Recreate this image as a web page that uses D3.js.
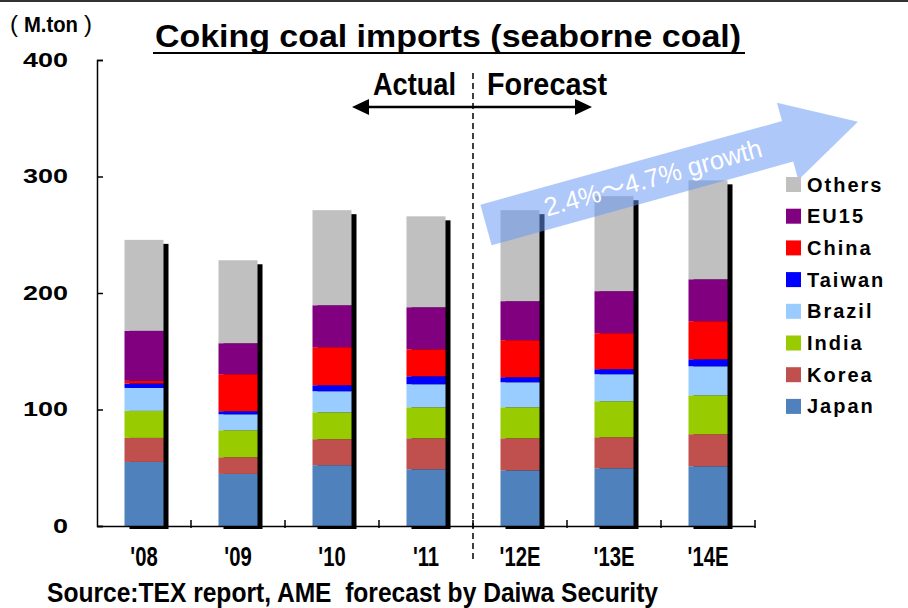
<!DOCTYPE html>
<html>
<head>
<meta charset="utf-8">
<script src="https://cdn.jsdelivr.net/npm/d3@7"></script>
<style>
  html, body { margin: 0; padding: 0; background: #fff; }
  svg { display: block; }
  text { font-family: "Liberation Sans", Arial, "Noto Sans CJK JP", sans-serif; }
</style>
</head>
<body>
<script>
// ---------------- DATA ----------------
const categories = ["'08", "'09", "'10", "'11", "'12E", "'13E", "'14E"];
const japan  = [55.0, 44.7, 52.2, 48.7, 47.8, 49.6, 51.3];
const korea  = [20.6, 14.3, 22.3, 26.6, 27.5, 26.6, 27.5];
const india  = [23.2, 23.2, 23.1, 26.6, 26.6, 30.9, 33.4];
const brazil = [19.7, 13.7, 18.1, 19.8, 21.5, 23.2, 24.9];
const taiwan = [3.8, 2.6, 5.1, 6.8, 4.3, 4.3, 6.0];
const china  = [2.3, 31.8, 32.7, 23.2, 31.8, 30.9, 32.7];
const eu15   = [42.9, 26.6, 36.0, 36.1, 33.5, 36.1, 36.0];
const others = [78.1, 71.2, 81.6, 78.0, 78.1, 81.5, 84.9];
const seriesNames  = ["Japan", "Korea", "India", "Brazil", "Taiwan", "China", "EU15", "Others"];
const seriesColors = ["#4f81bd", "#c0504d", "#99cc00", "#99ccff", "#0000ff", "#ff0000", "#800080", "#c0c0c0"];
const yTicks = [0, 100, 200, 300, 400];
const titleText = "Coking coal imports (seaborne coal)";
const unitParts = ["(", "M.ton", ")"];
const sourceText = "Source:TEX report, AME\u00a0\u00a0forecast by Daiwa Security";
const growthText = "2.4%～4.7% growth";
const actualText = "Actual";
const forecastText = "Forecast";

// ---------------- BUILD TABLE ----------------
const seriesValues = [japan, korea, india, brazil, taiwan, china, eu15, others];
const table = categories.map((c, i) => {
  const row = { cat: c };
  seriesNames.forEach((s, k) => row[s] = seriesValues[k][i]);
  return row;
});
const stack = d3.stack().keys(seriesNames)(table);
const totals = table.map(r => d3.sum(seriesNames, s => r[s]));

// ---------------- SVG ----------------
const W = 908, H = 608;
const svg = d3.select("body").append("svg").attr("width", W).attr("height", H);

function fit(sel, w) { return sel.attr("textLength", w).attr("lengthAdjust", "spacingAndGlyphs"); }

const x = d3.scaleBand().domain(categories).range([97, 755]).paddingInner(0.585).paddingOuter(0.2925);
const y = d3.scaleLinear().domain([0, 400]).range([526, 60]);

// top border
svg.append("line").attr("x1", 0).attr("x2", W).attr("y1", 1).attr("y2", 1)
  .attr("stroke", "#333").attr("stroke-width", 2);

// shadows
svg.append("g").selectAll("rect").data(table).join("rect")
  .attr("x", d => x(d.cat) + 5)
  .attr("y", (d, i) => y(totals[i]) + 4)
  .attr("width", x.bandwidth())
  .attr("height", (d, i) => y(0) - y(totals[i]) - 1)
  .attr("fill", "#000");

// stacked bars
svg.append("g").selectAll("g").data(stack).join("g")
  .attr("fill", (d, k) => seriesColors[k])
  .selectAll("rect").data(d => d).join("rect")
  .attr("x", d => x(d.data.cat))
  .attr("y", d => y(d[1]))
  .attr("width", x.bandwidth())
  .attr("height", d => y(d[0]) - y(d[1]));

// y axis
const yAxis = d3.axisLeft(y).tickValues(yTicks).tickSizeInner(-6).tickSizeOuter(-6).tickPadding(29);
const gy = svg.append("g").attr("transform", "translate(97,0)").call(yAxis);
gy.select(".domain").attr("stroke", "#000").attr("stroke-width", 1.5);
gy.selectAll(".tick line").attr("stroke", "#000").attr("stroke-width", 1.5);
gy.selectAll(".tick text").attr("fill", "#000").attr("font-size", 20).attr("font-weight", "bold")
  .each(function(d) { const s = String(d); d3.select(this).call(fit, 15 * s.length); });

// x axis
const xAxis = d3.axisBottom(x).tickSize(0).tickPadding(21);
const gx = svg.append("g").attr("transform", "translate(0,526)").call(xAxis);
gx.select(".domain").attr("stroke", "#000").attr("stroke-width", 1.5);
gx.selectAll(".tick text").attr("fill", "#000").attr("font-size", 27).attr("font-weight", "bold")
  .each(function() { const w = this.getComputedTextLength(); d3.select(this).call(fit, w * 0.75); });
// boundary ticks
const bounds = d3.range(categories.length + 1).map(i => x.range()[0] + i * x.step());
svg.append("g").selectAll("line").data(bounds.slice(1)).join("line")
  .attr("x1", d => d).attr("x2", d => d).attr("y1", 520).attr("y2", 528)
  .attr("stroke", "#000").attr("stroke-width", 1.5);

// actual / forecast divider
const divX = x.range()[0] + 4 * x.step();
svg.append("line").attr("x1", divX).attr("x2", divX).attr("y1", 73).attr("y2", 562)
  .attr("stroke", "#000").attr("stroke-width", 1.5).attr("stroke-dasharray", "6,4");

svg.append("text").attr("x", 373).attr("y", 95).attr("font-size", 31).attr("font-weight", "bold")
  .text(actualText).call(fit, 83);
svg.append("text").attr("x", 487).attr("y", 95).attr("font-size", 31).attr("font-weight", "bold")
  .text(forecastText).call(fit, 120);
svg.append("line").attr("x1", 362).attr("x2", 582).attr("y1", 107).attr("y2", 107)
  .attr("stroke", "#000").attr("stroke-width", 2.5);
svg.append("path").attr("d", "M352,107 L369,99 L369,115 Z M592,107 L575,99 L575,115 Z").attr("fill", "#000");

// growth arrow
const ga = svg.append("g").attr("transform", "translate(486,225) rotate(-15.5)");
ga.append("path")
  .attr("d", "M0,-21 L313,-21 L313,-40 L386,0 L313,40 L313,21 L0,21 Z")
  .attr("fill", "rgb(102,150,245)").attr("fill-opacity", 0.52);
ga.append("text").attr("x", 61).attr("y", 8).attr("font-size", 26).attr("fill", "#fff")
  .text(growthText).call(fit, 225);

// legend
const legendOrder = seriesNames.map((s, k) => k).reverse();
const lg = svg.append("g").attr("transform", "translate(786,177)");
const li = lg.selectAll("g").data(legendOrder).join("g")
  .attr("transform", (k, i) => `translate(0,${i * 31.7})`);
li.append("rect").attr("width", 15).attr("height", 15).attr("fill", k => seriesColors[k]);
li.append("text").attr("x", 21).attr("y", 14.5).attr("font-size", 20).attr("font-weight", "bold")
  .attr("letter-spacing", 2).text(k => seriesNames[k]);

// title
svg.append("text").attr("x", 155).attr("y", 47).attr("font-size", 31).attr("font-weight", "bold")
  .text(titleText).call(fit, 586);
svg.append("line").attr("x1", 153).attr("x2", 745).attr("y1", 53).attr("y2", 53)
  .attr("stroke", "#000").attr("stroke-width", 2);

// unit label
const unitX = [10, 24, 84];
const unitW = [8, 54, 8];
svg.append("g").selectAll("text").data(unitParts).join("text")
  .attr("x", (d, i) => unitX[i]).attr("y", 32)
  .attr("font-size", (d, i) => i === 1 ? 22 : 24)
  .attr("font-weight", (d, i) => i === 1 ? "bold" : "normal")
  .text(d => d)
  .each(function(d, i) { d3.select(this).call(fit, unitW[i]); });

// source
svg.append("text").attr("x", 47).attr("y", 602).attr("font-size", 28).attr("font-weight", "bold")
  .text(sourceText).call(fit, 611);
</script>
</body>
</html>
